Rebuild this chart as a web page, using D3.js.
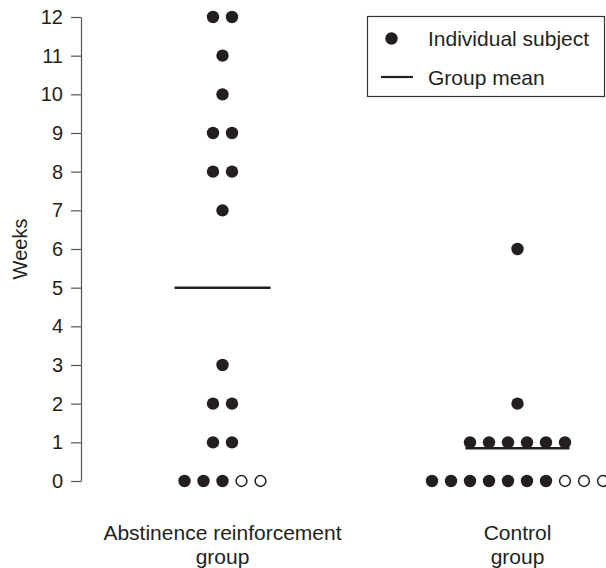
<!DOCTYPE html>
<html><head><meta charset="utf-8">
<script src="https://cdn.jsdelivr.net/npm/d3@7"></script>
<style>body{margin:0;background:#fff}svg{display:block}text{font-family:"Liberation Sans",Arial,sans-serif;fill:#231f20}</style>
</head><body>
<svg id="chart" width="606" height="568"></svg>
<script>
// Data
const groups = ["Abstinence reinforcement group", "Control group"];
const groupLabelLines = [["Abstinence reinforcement", "group"], ["Control", "group"]];
const abstinenceFilled = [0,0,0,1,1,2,2,3,7,8,8,9,9,10,11,12,12];
const abstinenceOpen = [0,0];
const controlFilled = [0,0,0,0,0,0,0,1,1,1,1,1,1,2,6];
const controlOpen = [0,0,0];
const groupMeans = [5.0, 0.85];
const yTicks = [0,1,2,3,4,5,6,7,8,9,10,11,12];
const legendLabels = ["Individual subject", "Group mean"];

const svg = d3.select("#chart");
const ink = "#231f20";
const y = d3.scaleLinear().domain([0, 12]).range([481, 17]);
const x = d3.scalePoint().domain(groups).range([222.5, 517.5]);
const dotStep = 19, r = 6.2;

// Axis
const yAxis = d3.axisLeft(y).tickValues(yTicks).tickSize(10).tickSizeOuter(0).tickPadding(8);
const ag = svg.append("g").attr("transform", "translate(81,0)").call(yAxis);
ag.select(".domain").attr("stroke", "#555").attr("stroke-width", 1.2);
ag.selectAll(".tick line").attr("stroke", "#555").attr("stroke-width", 1.2);
ag.selectAll(".tick text").attr("font-size", 20).attr("fill", ink)
  .attr("font-family", "'Liberation Sans',Arial,sans-serif");

svg.append("text").attr("transform", `translate(27,${(y(0)+y(12))/2}) rotate(-90)`)
  .attr("text-anchor", "middle").attr("font-size", 20).text("Weeks");

// Points
const sets = [
  {g: groups[0], filled: abstinenceFilled, open: abstinenceOpen},
  {g: groups[1], filled: controlFilled, open: controlOpen}
];
sets.forEach(s => {
  const pts = s.filled.map(v => ({v, open: false})).concat(s.open.map(v => ({v, open: true})));
  const byVal = d3.group(pts, d => d.v);
  const placed = [];
  byVal.forEach((arr, v) => {
    const n = arr.length;
    arr.forEach((d, i) => placed.push({v, open: d.open, dx: (i - (n - 1) / 2) * dotStep}));
  });
  svg.append("g").selectAll("circle").data(placed).join("circle")
    .attr("cx", d => x(s.g) + d.dx)
    .attr("cy", d => y(d.v))
    .attr("r", d => d.open ? r - 0.8 : r)
    .attr("fill", d => d.open ? "#fff" : ink)
    .attr("stroke", ink)
    .attr("stroke-width", d => d.open ? 1.5 : 0);
});

// Means
const halfW = [48, 52];
svg.append("g").selectAll("line").data(groupMeans).join("line")
  .attr("x1", (d, i) => x(groups[i]) - halfW[i])
  .attr("x2", (d, i) => x(groups[i]) + halfW[i])
  .attr("y1", d => y(d)).attr("y2", d => y(d))
  .attr("stroke", ink).attr("stroke-width", 2.5);

// X labels
groupLabelLines.forEach((lines, i) => {
  const t = svg.append("text").attr("text-anchor", "middle").attr("font-size", 21);
  lines.forEach((ln, j) => t.append("tspan").attr("x", x(groups[i])).attr("y", 540 + j * 24).text(ln));
});

// Legend
const lg = svg.append("g");
lg.append("rect").attr("x", 367.5).attr("y", 16.5).attr("width", 237).attr("height", 80)
  .attr("fill", "#fff").attr("stroke", "#333").attr("stroke-width", 1.2);
lg.append("circle").attr("cx", 391.5).attr("cy", 38.5).attr("r", r).attr("fill", ink);
lg.append("line").attr("x1", 381).attr("x2", 413).attr("y1", 77).attr("y2", 77)
  .attr("stroke", ink).attr("stroke-width", 2.2);
lg.selectAll("text.leg").data(legendLabels).join("text").attr("class", "leg")
  .attr("x", 428).attr("y", (d, i) => 46 + i * 38.5).attr("font-size", 21).text(d => d);
</script>
</body></html>
